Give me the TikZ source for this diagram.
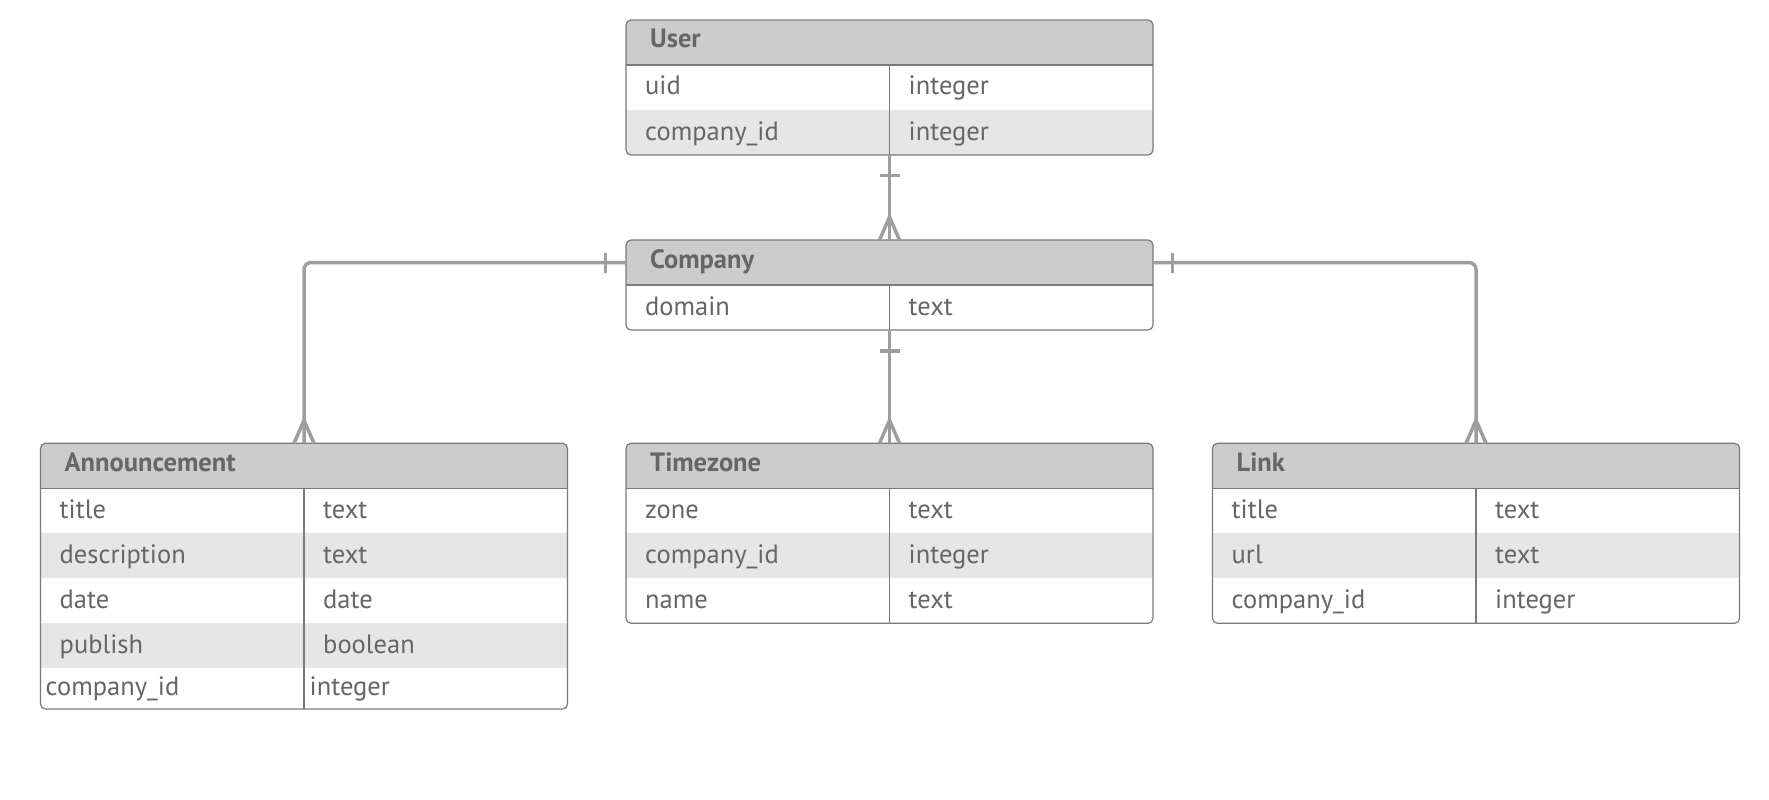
\documentclass[tikz,border=0pt]{standalone}
\usepackage{fontspec}
\setmainfont{PT Sans}
\usetikzlibrary{calc}
\definecolor{hdrfill}{HTML}{CCCCCC}
\definecolor{altfill}{HTML}{E6E6E6}
\definecolor{bordercol}{HTML}{7A7A7A}
\definecolor{relcol}{HTML}{9E9E9E}
\definecolor{txtcol}{HTML}{666666}
\definecolor{hdrtxt}{HTML}{666666}
\tikzset{
  tbl/.style={draw=bordercol, line width=1.2pt, rounded corners=5pt, rectangle,
    inner sep=0pt, outer sep=0pt, anchor=north west, minimum width=527pt},
  sep/.style={draw=bordercol, line width=1.2pt},
  hdr/.style={font=\bfseries\fontsize{26.5}{30}\selectfont, text=hdrtxt, anchor=base west, inner sep=0pt},
  fld/.style={font=\fontsize{26.5}{30}\selectfont, text=txtcol, anchor=base west, inner sep=0pt},
  rel/.style={draw=relcol, line width=3.5pt},
}
\newcommand\ertable[6]{%
  \begin{scope}
    \clip[rounded corners=5pt] (#2,#3) rectangle ++(527,#4);
    \fill[hdrfill] (#2,#3) rectangle ++(527,45);
    \foreach \f/\t [count=\i] in {#6} {
      \ifodd\i\relax\else
        \fill[altfill] (#2,{#3+45*\i}) rectangle ++(527,45);
      \fi
    }
  \end{scope}
  \node[tbl, minimum height=#4pt] (#1) at (#2,#3) {};
  \draw[sep] ($(#1.north west)+(0,45)$) -- ($(#1.north east)+(0,45)$);
  \draw[sep] ($(#1.north)+(0,45)$) -- (#1.south);
  \node[hdr] (#1-t) at ({#2+24},{#3+28}) {#5};
  \foreach \f/\t [count=\i] in {#6} {
    \node[fld] (#1-f\i) at ({#2+19},{#3+45*\i+30}) {\f};
    \node[fld] (#1-y\i) at ({#2+282.5},{#3+45*\i+30}) {\t};
  }
}
\newcommand\crowfoot[1]{%
  \draw[rel] ($(#1)+(-10,0)$) -- ($(#1)+(0,-23)$) -- ($(#1)+(10,0)$);}
\begin{document}
\begin{tikzpicture}[x=1pt,y=-1pt]
\useasboundingbox[fill=white] (0,0) rectangle (1769,800);

\ertable{user}{626}{20}{135}{User}{uid/integer, company\_id/integer}
\ertable{company}{626}{240}{90}{Company}{domain/text}
\ertable{ann}{40.5}{443.3}{265.7}{Announcement}{title/text, description/text, date/date, publish/boolean}
\node[fld] (ann-f5) at (45.5,695) {company\_id};
\node[fld] (ann-y5) at (309.5,695) {integer};
\ertable{tz}{626}{443.3}{180}{Timezone}{zone/text, company\_id/integer, name/text}
\ertable{link}{1212.5}{443.3}{180}{Link}{title/text, url/text, company\_id/integer}

% User -- Company
\draw[rel] (user.south) -- (company.north);
\draw[rel] ($(user.south)+(-10,20.7)$) -- ($(user.south)+(10,20.7)$);
\crowfoot{company.north}

% Company -- Timezone
\draw[rel] (company.south) -- (tz.north);
\draw[rel] ($(company.south)+(-10,21)$) -- ($(company.south)+(10,21)$);
\crowfoot{tz.north}

% Company -- Announcement
\coordinate (cl) at ($(company.north west)+(0,22.5)$);
\draw[rel, rounded corners=7pt] (cl) -| (ann.north);
\draw[rel] ($(cl)+(-20.4,-10)$) -- ($(cl)+(-20.4,10)$);
\crowfoot{ann.north}

% Company -- Link
\coordinate (cr) at ($(company.north east)+(0,22.5)$);
\draw[rel, rounded corners=7pt] (cr) -| (link.north);
\draw[rel] ($(cr)+(19.7,-10)$) -- ($(cr)+(19.7,10)$);
\crowfoot{link.north}
\end{tikzpicture}
\end{document}
